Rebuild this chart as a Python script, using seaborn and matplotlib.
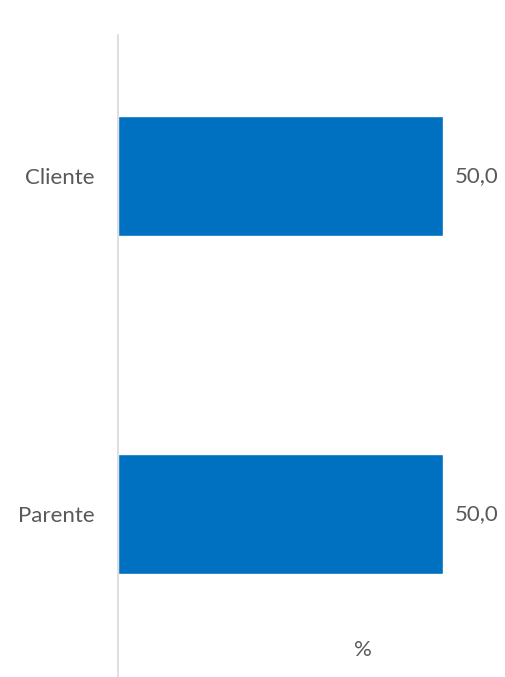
import matplotlib
matplotlib.use("Agg")
import matplotlib.pyplot as plt
import seaborn as sns
import pandas as pd

categories = ["Cliente", "Parente"]
values = [50.0, 50.0]
value_labels = ["50,0", "50,0"]
axis_unit = "%"

df = pd.DataFrame({"categoria": categories, "valore": values})

sns.set_style("white")
plt.rcParams['font.family'] = ['Lato', 'DejaVu Sans']
text_color = "#595959"
fs = 16

fig = plt.figure(figsize=(5.06, 6.77), dpi=100)
ax = fig.add_axes([118 / 506, 0, 388 / 506, 642 / 677])

sns.barplot(data=df, x="valore", y="categoria", orient="h", color="#0070C0",
            saturation=1, width=0.356, ax=ax)

ax.set_xlim(0, 50 * 388 / 325)
ax.set_ylim(1.484, -0.418)

for i, (v, lab) in enumerate(zip(values, value_labels)):
    ax.annotate(lab, xy=(v, i), xytext=(8.5, 0), textcoords="offset points",
                ha="left", va="center", fontsize=fs, color=text_color)

ax.set_xticks([])
ax.set_xlabel("")
ax.set_ylabel("")
ax.tick_params(axis="y", length=0, pad=17, labelsize=fs, labelcolor=text_color)
ax.text(0.631, 0.042, axis_unit, transform=ax.transAxes, ha="center", va="center",
        fontsize=fs, color=text_color)

for side in ["top", "right", "bottom"]:
    ax.spines[side].set_visible(False)
ax.spines["left"].set_color("#D9D9D9")
ax.spines["left"].set_linewidth(1.2)

fig.savefig("out.png", dpi=100)
